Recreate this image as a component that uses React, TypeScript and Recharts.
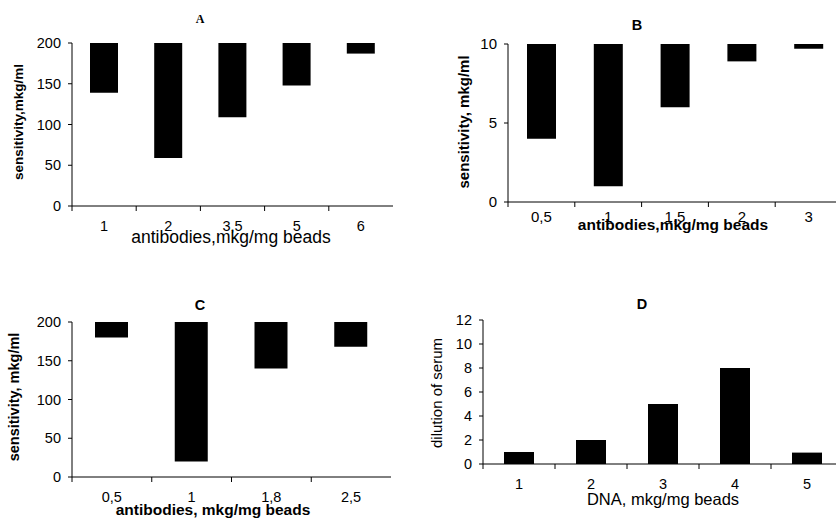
import React from "react";
import { BarChart, Bar, XAxis, YAxis } from "recharts";

// A - antibodies on beads vs sensitivity (bars hang down from the top of the scale)
const catsA = ["1", "2", "3,5", "5", "6"];
const valsA = [139, 59, 109, 148, 187];
const ticksA = [0, 50, 100, 150, 200];

// B
const catsB = ["0,5", "1", "1,5", "2", "3"];
const valsB = [4, 1, 6, 8.9, 9.7];
const ticksB = [0, 5, 10];

// C
const catsC = ["0,5", "1", "1,8", "2,5"];
const valsC = [180, 20, 140, 168];
const ticksC = [0, 50, 100, 150, 200];

// D - DNA on beads vs dilution of serum (ordinary bars)
const catsD = ["1", "2", "3", "4", "5"];
const valsD = [1, 2, 5, 8, 0.95];
const ticksD = [0, 2, 4, 6, 8, 10, 12];

const SANS = "'Liberation Sans', Arial, sans-serif";
const SERIF = "'Liberation Serif', 'Times New Roman', serif";

type Txt = { text: string; x: number; y: number; size: number; bold?: boolean; serif?: boolean };

type PanelProps = {
  left: number;
  top: number;
  width: number;
  height: number;
  plotTop: number;
  yWidth: number;
  xHeight: number;
  right: number;
  cats: string[];
  vals: number[];
  ticks: number[];
  hang: boolean;
  barSize: number;
  tickGap: number;
  tickFont: number;
  border: string;
  title: Txt;
  xTitle: Txt;
  yTitle: Txt;
};

// category label in the middle, tick mark on the boundary between categories
function XTick(props: any) {
  const { x, y, payload, gap, size } = props;
  const off = payload?.offset ?? 0;
  return (
    <g>
      <line x1={x - off} x2={x - off} y1={y} y2={y + 5} stroke="#000" />
      <text x={x} y={y + gap} dy="0.71em" textAnchor="middle" fontSize={size} fontFamily={SANS} fill="#000">
        {payload.value}
      </text>
    </g>
  );
}

function Panel(p: PanelProps) {
  const max = p.ticks[p.ticks.length - 1];
  const data = p.cats.map((c, i) => ({ name: c, v: p.hang ? [p.vals[i], max] : p.vals[i] }));

  const texts = () => (
    <g fill="#000">
      <text
        x={p.title.x}
        y={p.title.y}
        textAnchor="middle"
        fontSize={p.title.size}
        fontWeight={p.title.bold ? "bold" : "normal"}
        fontFamily={p.title.serif ? SERIF : SANS}
      >
        {p.title.text}
      </text>
      <text
        x={p.xTitle.x}
        y={p.xTitle.y}
        textAnchor="middle"
        fontSize={p.xTitle.size}
        fontWeight={p.xTitle.bold ? "bold" : "normal"}
        fontFamily={SANS}
      >
        {p.xTitle.text}
      </text>
      <text
        x={p.yTitle.x}
        y={p.yTitle.y}
        dy="0.35em"
        textAnchor="middle"
        transform={`rotate(-90 ${p.yTitle.x} ${p.yTitle.y})`}
        fontSize={p.yTitle.size}
        fontWeight={p.yTitle.bold ? "bold" : "normal"}
        fontFamily={SANS}
      >
        {p.yTitle.text}
      </text>
    </g>
  );

  return (
    <div style={{ position: "absolute", left: p.left, top: p.top }}>
      <BarChart
        width={p.width}
        height={p.height}
        data={data}
        margin={{ top: p.plotTop, right: p.right, left: 0, bottom: 0 }}
        barCategoryGap={0}
      >
        <XAxis
          dataKey="name"
          height={p.xHeight}
          interval={0}
          tickLine={false}
          tickSize={0}
          tickMargin={0}
          axisLine={{ stroke: "#000" }}
          tick={<XTick gap={p.tickGap} size={p.tickFont} />}
          label={{ content: texts }}
        />
        <XAxis
          xAxisId="t"
          orientation="top"
          dataKey="name"
          height={0}
          tick={false}
          tickLine={false}
          axisLine={{ stroke: p.border }}
        />
        <YAxis
          type="number"
          width={p.yWidth}
          domain={[0, max]}
          ticks={p.ticks}
          interval={0}
          tickSize={4}
          tickMargin={7}
          axisLine={{ stroke: "#000" }}
          tickLine={{ stroke: "#000" }}
          tick={{ fill: "#000", fontSize: p.tickFont, fontFamily: SANS }}
        />
        <YAxis
          yAxisId="r"
          orientation="right"
          type="number"
          width={0}
          domain={[0, max]}
          tick={false}
          tickLine={false}
          axisLine={{ stroke: p.border }}
        />
        <Bar dataKey="v" fill="#000" barSize={p.barSize} isAnimationActive={false} />
      </BarChart>
    </div>
  );
}

export default function App() {
  return (
    <div
      style={{
        position: "relative",
        width: 836,
        height: 521,
        overflow: "hidden",
        background: "#fff",
        fontFamily: SANS,
      }}
    >
      <style>{"body{margin:0}"}</style>
      <Panel
        left={0}
        top={0}
        width={420}
        height={260}
        plotTop={43}
        yWidth={72}
        xHeight={54}
        right={27}
        cats={catsA}
        vals={valsA}
        ticks={ticksA}
        hang
        barSize={28}
        tickGap={15}
        tickFont={14.5}
        border="#666"
        title={{ text: "A", x: 200, y: 23, size: 12, bold: true, serif: true }}
        xTitle={{ text: "antibodies,mkg/mg beads", x: 231, y: 243, size: 17.5 }}
        yTitle={{ text: "sensitivity,mkg/ml", x: 18, y: 122, size: 13.5, bold: true }}
      />
      <Panel
        left={420}
        top={0}
        width={430}
        height={260}
        plotTop={44}
        yWidth={88}
        xHeight={58}
        right={8}
        cats={catsB}
        vals={valsB}
        ticks={ticksB}
        hang
        barSize={29}
        tickGap={9}
        tickFont={15}
        border="#666"
        title={{ text: "B", x: 217, y: 30, size: 14.5, bold: true }}
        xTitle={{ text: "antibodies,mkg/mg beads", x: 253, y: 230, size: 15.5, bold: true }}
        yTitle={{ text: "sensitivity, mkg/ml", x: 44, y: 122, size: 15, bold: true }}
      />
      <Panel
        left={0}
        top={260}
        width={420}
        height={261}
        plotTop={62}
        yWidth={72}
        xHeight={44}
        right={29}
        cats={catsC}
        vals={valsC}
        ticks={ticksC}
        hang
        barSize={33}
        tickGap={15}
        tickFont={14.5}
        border="#777"
        title={{ text: "C", x: 200, y: 50, size: 14.5, bold: true }}
        xTitle={{ text: "antibodies, mkg/mg beads", x: 213, y: 255, size: 15.5, bold: true }}
        yTitle={{ text: "sensitivity, mkg/ml", x: 14, y: 137, size: 14.5, bold: true }}
      />
      <Panel
        left={420}
        top={260}
        width={430}
        height={261}
        plotTop={60}
        yWidth={63}
        xHeight={57}
        right={7}
        cats={catsD}
        vals={valsD}
        ticks={ticksD}
        hang={false}
        barSize={30}
        tickGap={15}
        tickFont={14.5}
        border="#333"
        title={{ text: "D", x: 222, y: 49, size: 14.5, bold: true }}
        xTitle={{ text: "DNA, mkg/mg beads", x: 243, y: 245, size: 16.5 }}
        yTitle={{ text: "dilution of serum", x: 17, y: 133, size: 15 }}
      />
    </div>
  );
}
